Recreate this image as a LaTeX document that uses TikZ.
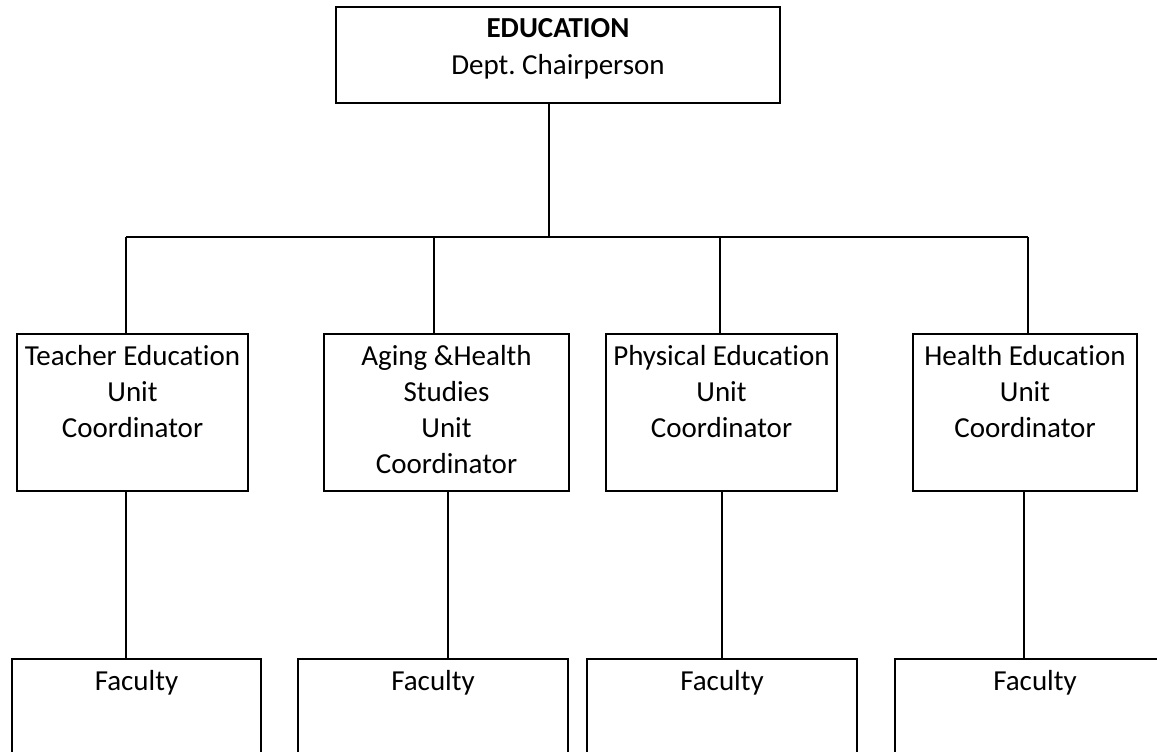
\documentclass[tikz,border=0pt]{standalone}
\usepackage{fontspec}
\setmainfont{Carlito}[Ligatures={NoCommon}]
\tikzset{
  box/.style={draw, line width=2.8pt, inner sep=0pt, outer sep=0pt, anchor=north west},
  conn/.style={line width=2.4pt},
}
\newcommand{\boxtext}[3]{\begin{minipage}[t][#2][t]{#1}\centering\frenchspacing\fontsize{29}{36}\selectfont\rule{0pt}{31pt}#3\end{minipage}}
\begin{document}
\begin{tikzpicture}[x=1pt,y=-1pt]
\path[use as bounding box] (0,0) rectangle (1157,752);
\clip (0,0) rectangle (1157,752);
% boxes
\node[box] (top) at (336,7) {\boxtext{444pt}{96pt}{\textbf{EDUCATION}\\Dept. Chairperson}};
\node[box] (u1) at (17,334) {\boxtext{231pt}{157pt}{Teacher Education\\Unit\\Coordinator}};
\node[box] (u2) at (324,334) {\boxtext{245pt}{157pt}{Aging \&Health\\Studies\\Unit\\Coordinator}};
\node[box] (u3) at (606,334) {\boxtext{231pt}{157pt}{Physical Education\\Unit\\Coordinator}};
\node[box] (u4) at (913,334) {\boxtext{224pt}{157pt}{Health Education\\Unit\\Coordinator}};
\node[box] (f1) at (12,659) {\boxtext{249pt}{130pt}{Faculty}};
\node[box] (f2) at (298,659) {\boxtext{270pt}{130pt}{Faculty}};
\node[box] (f3) at (587,659) {\boxtext{270pt}{130pt}{Faculty}};
\node[box] (f4) at (895,659) {\boxtext{280pt}{130pt}{Faculty}};
% connectors
\coordinate (c0) at (549,0);
\coordinate (bus1) at (126,237);
\coordinate (bus2) at (434,237);
\coordinate (bus3) at (720,237);
\coordinate (bus4) at (1028,237);
\coordinate (d1) at (126,0);
\coordinate (d2) at (448,0);
\coordinate (d3) at (722,0);
\coordinate (d4) at (1024,0);
\draw[conn] (c0 |- top.south) -- (c0 |- bus1);
\draw[conn] (bus1) -- (bus4);
\draw[conn] (bus1) -- (bus1 |- u1.north);
\draw[conn] (bus2) -- (bus2 |- u2.north);
\draw[conn] (bus3) -- (bus3 |- u3.north);
\draw[conn] (bus4) -- (bus4 |- u4.north);
\draw[conn] (d1 |- u1.south) -- (d1 |- f1.north);
\draw[conn] (d2 |- u2.south) -- (d2 |- f2.north);
\draw[conn] (d3 |- u3.south) -- (d3 |- f3.north);
\draw[conn] (d4 |- u4.south) -- (d4 |- f4.north);
\end{tikzpicture}
\end{document}
